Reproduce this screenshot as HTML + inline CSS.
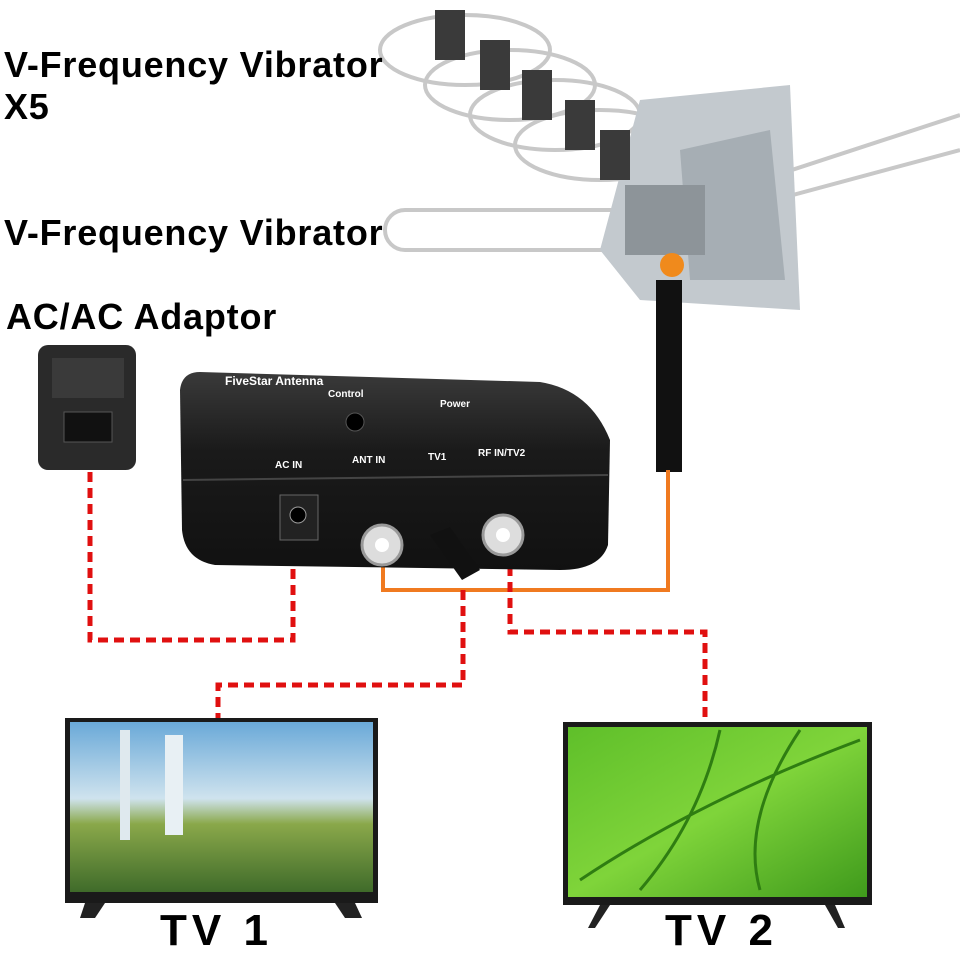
<!DOCTYPE html>
<html><head><meta charset="utf-8"><style>
html,body{margin:0;padding:0;background:#fff;}
body{width:960px;height:950px;position:relative;overflow:hidden;font-family:"Liberation Sans",sans-serif;}
.t{position:absolute;font-weight:bold;color:#000;font-size:36px;white-space:nowrap;letter-spacing:0.8px}
</style></head><body>
<svg width="960" height="950" style="position:absolute;left:0;top:0">
<defs>
<linearGradient id="sky" x1="0" y1="0" x2="0" y2="1"><stop offset="0" stop-color="#6aa9d8"/><stop offset="0.45" stop-color="#cfe3ee"/><stop offset="0.6" stop-color="#8aa84a"/><stop offset="1" stop-color="#3f6b2a"/></linearGradient>
<linearGradient id="leaf" x1="0" y1="0" x2="1" y2="1"><stop offset="0" stop-color="#5fbf2a"/><stop offset="0.5" stop-color="#7fd43a"/><stop offset="1" stop-color="#3f9a1c"/></linearGradient>
<linearGradient id="box" x1="0" y1="0" x2="0" y2="1"><stop offset="0" stop-color="#3a3a3a"/><stop offset="0.4" stop-color="#1a1a1a"/><stop offset="1" stop-color="#111"/></linearGradient>
</defs>
<g stroke="#c8c8c8" stroke-width="4" fill="none">
<ellipse cx="465" cy="50" rx="85" ry="35"/>
<ellipse cx="510" cy="85" rx="85" ry="35"/>
<ellipse cx="555" cy="115" rx="85" ry="35"/>
<ellipse cx="600" cy="145" rx="85" ry="35"/>
<rect x="385" y="210" width="270" height="40" rx="20"/>
<line x1="700" y1="200" x2="960" y2="115"/>
<line x1="700" y1="220" x2="960" y2="150"/>
</g>
<polygon points="640,100 790,85 800,310 640,300 600,250" fill="#c3c9ce"/>
<polygon points="680,150 770,130 785,280 690,280" fill="#a6aeb4"/>
<rect x="625" y="185" width="80" height="70" fill="#8d9499"/>
<g fill="#3a3a3a"><rect x="435" y="10" width="30" height="50"/><rect x="480" y="40" width="30" height="50"/><rect x="522" y="70" width="30" height="50"/><rect x="565" y="100" width="30" height="50"/><rect x="600" y="130" width="30" height="50"/></g>
<circle cx="672" cy="265" r="12" fill="#f08a1c"/>
<rect x="656" y="280" width="26" height="192" fill="#111"/>
<polyline points="668,470 668,590 383,590 383,560" fill="none" stroke="#f07a20" stroke-width="4"/>
<g fill="none" stroke="#e01010" stroke-width="5" stroke-dasharray="10,6">
<polyline points="90,472 90,640 293,640 293,525"/>
<polyline points="463,590 463,685 218,685 218,720"/>
<polyline points="510,550 510,632 705,632 705,722"/>
</g>
<rect x="38" y="345" width="98" height="125" rx="10" fill="#2a2a2a"/>
<rect x="52" y="358" width="72" height="40" fill="#3a3a3a"/>
<rect x="64" y="412" width="48" height="30" fill="#111" stroke="#555"/>
<path d="M200,372 L540,382 Q590,390 610,440 L608,545 Q600,570 560,570 L215,565 Q185,560 182,530 L180,390 Q182,372 200,372 Z" fill="url(#box)"/>
<line x1="183" y1="480" x2="608" y2="475" stroke="#444" stroke-width="2"/>
<circle cx="355" cy="422" r="9" fill="#000" stroke="#555"/>
<rect x="280" y="495" width="38" height="45" fill="#222" stroke="#666"/>
<circle cx="298" cy="515" r="8" fill="#000" stroke="#999"/>
<circle cx="382" cy="545" r="20" fill="#ddd" stroke="#999" stroke-width="3"/>
<circle cx="382" cy="545" r="7" fill="#fff"/>
<circle cx="503" cy="535" r="20" fill="#ddd" stroke="#999" stroke-width="3"/>
<circle cx="503" cy="535" r="7" fill="#fff"/>
<polygon points="430,535 450,527 480,570 462,580" fill="#111"/>
<g fill="#fff" font-size="10" font-family="Liberation Sans" font-weight="bold">
<text x="275" y="468">AC IN</text><text x="352" y="463">ANT IN</text><text x="428" y="460">TV1</text><text x="478" y="456">RF IN/TV2</text>
<text x="328" y="397">Control</text><text x="440" y="407">Power</text><text x="225" y="385" font-size="12">FiveStar Antenna</text>
</g>
<rect x="65" y="718" width="313" height="185" fill="#1a1a1a"/>
<rect x="70" y="722" width="303" height="170" fill="url(#sky)"/>
<rect x="165" y="735" width="18" height="100" fill="#e8f0f4"/>
<rect x="120" y="730" width="10" height="110" fill="#dfe9ee"/>
<polygon points="85,903 105,903 95,918 80,918" fill="#222"/>
<polygon points="335,903 355,903 362,918 345,918" fill="#222"/>
<rect x="563" y="722" width="309" height="183" fill="#1a1a1a"/>
<rect x="568" y="727" width="299" height="170" fill="url(#leaf)"/>
<g stroke="#2f7d12" stroke-width="3" fill="none"><path d="M580,880 Q700,800 860,740"/><path d="M640,890 Q700,820 720,730"/><path d="M760,890 Q740,820 800,730"/></g>
<polygon points="600,905 610,905 595,928 588,928" fill="#222"/>
<polygon points="825,905 835,905 845,928 838,928" fill="#222"/>
</svg>
<div class="t" style="left:4px;top:44px">V-Frequency Vibrator</div>
<div class="t" style="left:4px;top:86px">X5</div>
<div class="t" style="left:4px;top:212px">V-Frequency Vibrator</div>
<div class="t" style="left:6px;top:296px">AC/AC Adaptor</div>
<div class="t" style="left:160px;top:906px;font-size:44px;letter-spacing:5px">TV 1</div>
<div class="t" style="left:665px;top:906px;font-size:44px;letter-spacing:5px">TV 2</div>
</body></html>
